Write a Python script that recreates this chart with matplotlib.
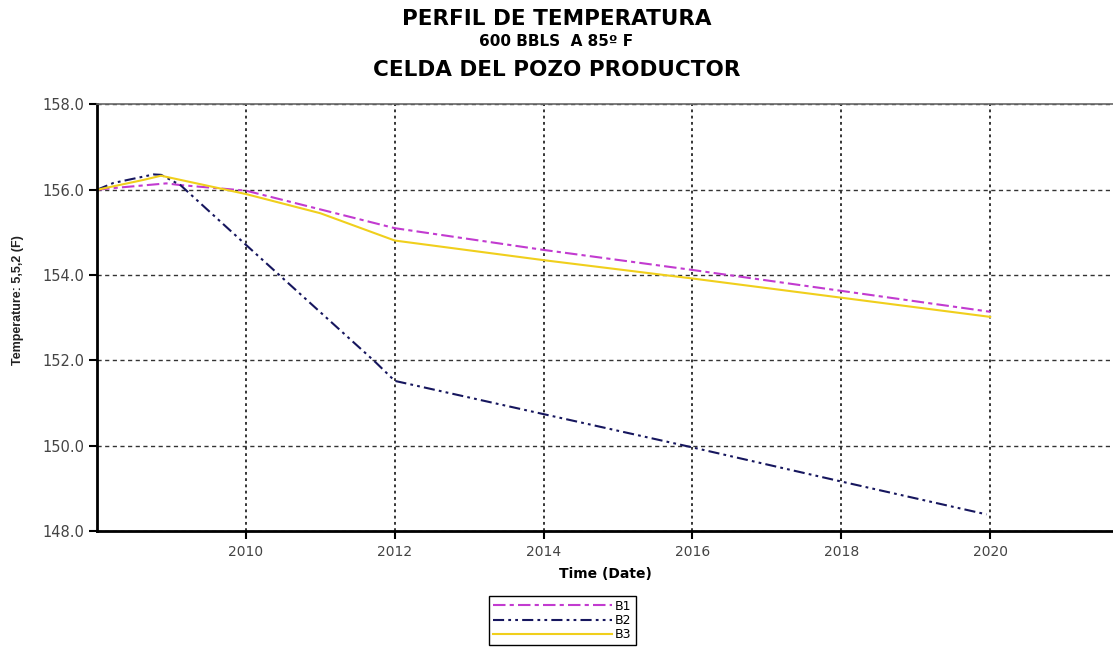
import matplotlib
matplotlib.use("Agg")
import matplotlib.pyplot as plt

# data (decimal years)
b1_years = [2008.0, 2008.22, 2008.93, 2009.12, 2010.0, 2012.0, 2014.0, 2016.0, 2018.0, 2020.0]
b1_temp = [156.0, 156.04, 156.15, 156.11, 155.98, 155.10, 154.59, 154.12, 153.63, 153.14]

b2_years = [2008.0, 2008.22, 2008.76, 2008.86, 2009.12, 2010.0, 2011.74, 2012.0, 2014.0, 2016.0, 2018.0, 2019.95]
b2_temp = [156.0, 156.16, 156.36, 156.35, 156.11, 154.71, 151.96, 151.52, 150.74, 149.96, 149.16, 148.39]

b3_years = [2008.0, 2008.62, 2008.86, 2010.0, 2011.0, 2012.0, 2014.0, 2016.0, 2018.0, 2020.0]
b3_temp = [156.0, 156.23, 156.33, 155.90, 155.45, 154.81, 154.35, 153.92, 153.47, 153.02]

year_ticks = [2010, 2012, 2014, 2016, 2018, 2020]
temp_ticks = [148.0, 150.0, 152.0, 154.0, 156.0, 158.0]

plt.rcParams['lines.scale_dashes'] = False
narrow = ['Liberation Sans Narrow', 'Liberation Sans', 'DejaVu Sans']

fig = plt.figure(figsize=(11.13, 6.55), dpi=100)
ax = fig.add_axes([0.0872, 0.1893, 0.9128, 0.6512])

ax.plot(b1_years, b1_temp, color='#c23bd0', lw=1.5, dashes=(9, 3, 3, 3), label='B1')
ax.plot(b2_years, b2_temp, color='#16165e', lw=1.5, dashes=(8, 3, 2, 3, 2, 3), label='B2')
ax.plot(b3_years, b3_temp, color='#f0cf1c', lw=1.5, label='B3')

ax.set_xlim(2008.0, 2021.65)
ax.set_ylim(148.0, 158.0)
ax.set_xticks(year_ticks)
ax.set_yticks(temp_ticks)
ax.set_xticklabels([str(y) for y in year_ticks], family='DejaVu Sans', fontsize=10, color='#444444')
ax.set_yticklabels(['%.1f' % t for t in temp_ticks], family='DejaVu Sans', fontsize=10.5, color='#444444')
ax.tick_params(axis='both', direction='out', length=6, width=1.5, color='black')
ax.tick_params(axis='x', pad=4)
ax.tick_params(axis='y', pad=3)

ax.xaxis.grid(True, color='black', linestyle=(0, (2, 2.5)), lw=1.1)
ax.yaxis.grid(True, color='#333333', linestyle=(0, (3, 2.5)), lw=1.0)

ax.spines['left'].set_linewidth(2.0)
ax.spines['bottom'].set_linewidth(2.0)
ax.spines['top'].set_color('#666666')
ax.spines['top'].set_linewidth(1.2)
ax.spines['right'].set_visible(False)

ax.set_xlabel('Time (Date)', fontsize=10, fontweight='bold', labelpad=6)
fig.text(0.016, 1 - 300 / 655, 'Temperature: 5,5,2 (F)', rotation=90, ha='center', va='center',
         fontsize=9, fontweight='bold', family=narrow, color='#222222')

fig.text(0.5, 1 - 19 / 655, 'PERFIL DE TEMPERATURA', ha='center', va='center',
         fontsize=15.5, fontweight='bold')
fig.text(0.5, 1 - 42 / 655, '600 BBLS  A 85º F', ha='center', va='center',
         fontsize=11, fontweight='bold')
fig.text(0.5, 1 - 70 / 655, 'CELDA DEL POZO PRODUCTOR', ha='center', va='center',
         fontsize=15.5, fontweight='bold')

leg = fig.legend(loc='upper left', bbox_to_anchor=(489 / 1113, 1 - 596 / 655),
                 fontsize=9, handlelength=9.5, handletextpad=0.3, labelspacing=0.1,
                 borderpad=0.3, borderaxespad=0, fancybox=False, framealpha=1)
leg.get_frame().set_edgecolor('black')
leg.get_frame().set_linewidth(1.0)

fig.savefig('out.png', dpi=100)
